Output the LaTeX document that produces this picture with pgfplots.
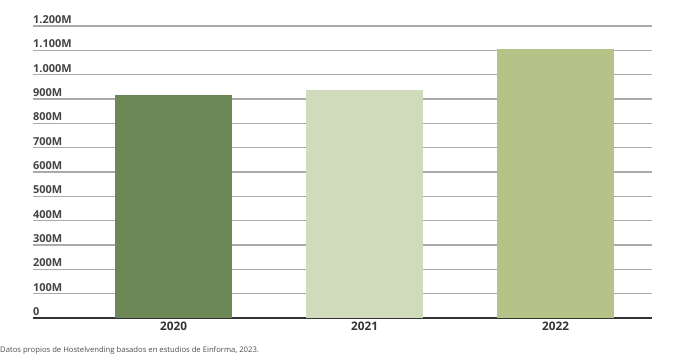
\documentclass[border=0pt]{standalone}
\usepackage{pgfplots}
\pgfplotsset{compat=1.18}
\usepackage{fontspec}
\setmainfont{Open Sans}
\definecolor{c20}{HTML}{6B8755}
\definecolor{c21}{HTML}{D0DBBB}
\definecolor{c22}{HTML}{B5C388}
\definecolor{txt}{HTML}{444444}
\definecolor{gridc}{HTML}{AAAAAA}
\begin{document}
\begin{tikzpicture}
\path[use as bounding box] (-33bp,-46bp) rectangle (643bp,318bp);
\begin{axis}[
  at={(0,0)}, anchor=south west,
  scale only axis,
  width=619bp, height=292bp,
  xmin=-0.736, xmax=2.505,
  ymin=0, ymax=1200,
  axis x line*=bottom, axis y line*=left,
  y axis line style={draw=none},
  x axis line style={line width=2.4bp, color=black!80, -},
  major tick length=0,
  xtick={0,1,2}, xticklabels={2020,2021,2022},
  ytick={0,100,...,1200},
  yticklabels={0,100M,200M,300M,400M,500M,600M,700M,800M,900M,1.000M,1.100M,1.200M},
  /pgf/number format/assume math mode=true,
  ymajorgrids,
  grid style={line width=1.2bp, color=gridc},
  yticklabel style={anchor=south west, inner xsep=0pt, inner ysep=2.2bp, font=\bfseries\fontsize{11}{13}\selectfont, text=txt, xshift=0pt},
  xticklabel style={font=\bfseries\fontsize{11.8}{13}\selectfont, text=black!80, yshift=-0.5bp},
  ybar, bar width=117bp,
  bar shift=0pt,
  clip=false,
]
\addplot[draw=none, fill=c20] coordinates {(0,915)};
\addplot[draw=none, fill=c21] coordinates {(1,936)};
\addplot[draw=none, fill=c22] coordinates {(2,1106)};
\end{axis}
\node[anchor=west, inner sep=0pt, font=\fontsize{7.7}{9}\selectfont, text=black!70] at (-33bp,-32bp) {Datos propios de Hostelvending basados en estudios de Einforma, 2023.};
\end{tikzpicture}
\end{document}
